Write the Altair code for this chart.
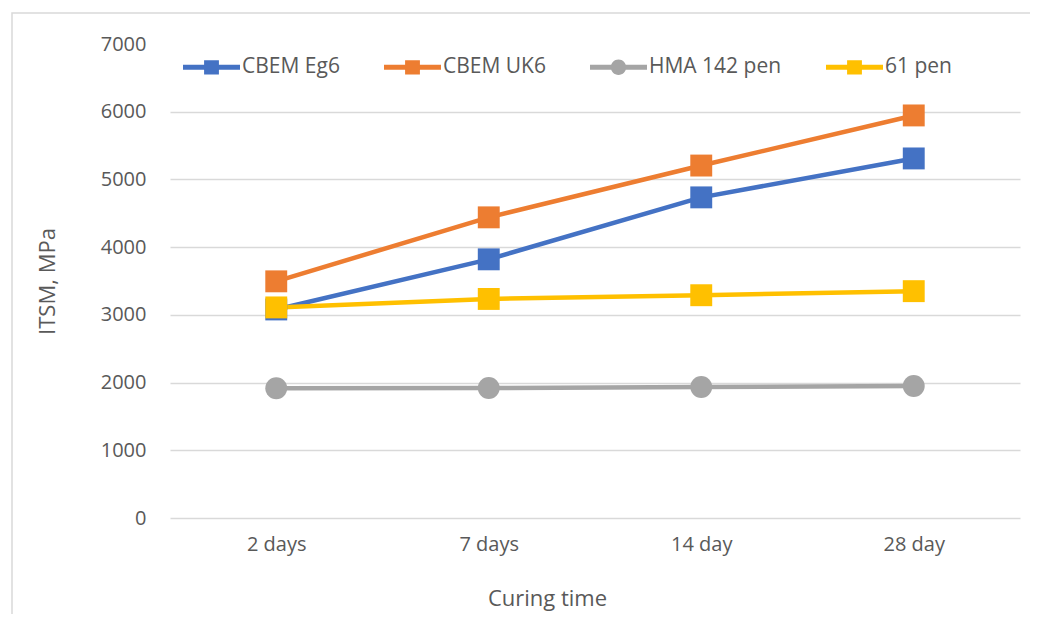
import altair as alt
import pandas as pd

days = ["2 days", "7 days", "14 day", "28 day"]
series = ["CBEM Eg6", "CBEM UK6", "HMA 142 pen", "61 pen"]
eg6 = [3080, 3820, 4735, 5310]
uk6 = [3495, 4440, 5205, 5945]
hma = [1915, 1920, 1935, 1950]
pen61 = [3110, 3235, 3290, 3350]
colors = ["#4472C4", "#ED7D31", "#A5A5A5", "#FFC000"]
y_ticks = [0, 1000, 2000, 3000, 4000, 5000, 6000, 7000]

rows = []
for name, vals in zip(series, [eg6, uk6, hma, pen61]):
    for d, v in zip(days, vals):
        rows.append({"day": d, "series": name, "itsm": v})
df = pd.DataFrame(rows)

FONT = "Open Sans"
TXT = "#595959"

SQ_PATH = "M-1,-0.09H1V0.09H-1Z M-0.26,-0.25H0.26V0.25H-0.26Z"
CI_PATH = "M-1,-0.09H1V0.09H-1Z M-0.27,0A0.27,0.27 0 1,1 0.27,0A0.27,0.27 0 1,1 -0.27,0Z"
legend_shapes = [SQ_PATH, SQ_PATH, CI_PATH, SQ_PATH]

x_enc = alt.X("day:N", sort=days, scale=alt.Scale(type="point", padding=0.5),
              axis=alt.Axis(title="Curing time", labelAngle=0, domain=False, ticks=False,
                            labelPadding=16, labelFontSize=20, labelColor=TXT,
                            labelFont=FONT, titleFont=FONT, titleFontSize=22,
                            titleFontWeight="normal", titleColor=TXT,
                            titleX=377, titleY=80, titleBaseline="middle"))
y_enc = alt.Y("itsm:Q", scale=alt.Scale(domain=[0, 7000], nice=False),
              axis=alt.Axis(title="ITSM, MPa", values=y_ticks, format="d", domain=False, ticks=False,
                            labelPadding=24, labelFontSize=20, labelColor=TXT,
                            labelFont=FONT, titleFont=FONT, titleFontSize=22,
                            titleFontWeight="normal", titleColor=TXT,
                            titleX=-123, titleY=237, titleAngle=-90, titleBaseline="middle",
                            gridColor="#D9D9D9", gridWidth=1.3,
                            gridOpacity=alt.condition("datum.value >= 7000", alt.value(0), alt.value(1))))

color_scale = alt.Scale(domain=series, range=colors)

leg = alt.Legend(title=None, orient="none", direction="horizontal",
                 columns=4, legendX=13, legendY=-5.5, padding=0,
                 columnPadding=44, labelOffset=2,
                 labelFont=FONT, labelFontSize=21, labelColor=TXT,
                 symbolSize=3249, symbolStrokeWidth=0, symbolOpacity=1)

color_enc = alt.Color("series:N", scale=color_scale, legend=leg)

lines = alt.Chart(df).mark_line(strokeWidth=4.5, strokeCap="round", strokeJoin="round").encode(
    x=x_enc, y=y_enc, color=color_enc, detail="series:N",
)

squares = alt.Chart(df).transform_filter(
    "datum.series !== 'HMA 142 pen'"
).mark_point(filled=True, size=480, opacity=1, shape="square").encode(
    x=x_enc, y=y_enc, color=color_enc,
)

circles = alt.Chart(df).transform_filter(
    "datum.series === 'HMA 142 pen'"
).mark_point(filled=True, size=480, opacity=1, shape="circle").encode(
    x=x_enc, y=y_enc, color=color_enc,
)

legend_layer = alt.Chart(df).mark_point(filled=True, opacity=0).encode(
    x=x_enc, y=y_enc, color=color_enc,
    shape=alt.Shape("series:N", scale=alt.Scale(domain=series, range=legend_shapes), legend=leg),
)

frame = alt.Chart(pd.DataFrame({"f": [0]})).mark_rect(filled=False, stroke="#D9D9D9", strokeWidth=1.5).encode(
    x=alt.value(-158), x2=alt.value(890), y=alt.value(-31), y2=alt.value(620)
)

chart = alt.layer(frame, lines, squares, circles, legend_layer).properties(
    width=850, height=474,
    padding={"left": 162, "top": 36, "right": 10, "bottom": 96},
    autosize=alt.AutoSizeParams(type="none"),
    background="white",
).configure_view(strokeWidth=0, stroke="transparent")

chart.save("out.html", embed_options={"renderer": "svg", "actions": False})
